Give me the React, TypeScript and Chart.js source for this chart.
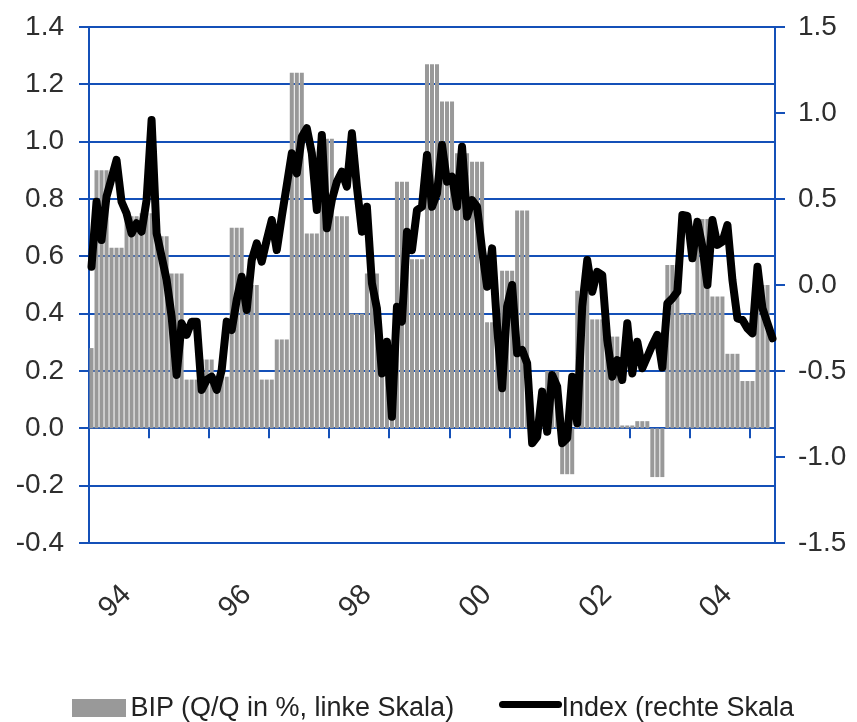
import React, { useEffect, useRef } from 'react';
import { Chart, registerables } from 'chart.js';

Chart.register(...registerables);

// ---------- data ----------
const startYear = 1993;
const monthCount = 137;
const months: string[] = Array.from({ length: monthCount }, (_, i) =>
  `${startYear + Math.floor(i / 12)}-${String((i % 12) + 1).padStart(2, '0')}`
);

// BIP Q/Q in % (left axis); first value covers one month, others three months each
const gdpQuarterly = [
  0.28,
  0.90, 0.63, 0.74, 0.75, 0.67, 0.54, 0.17, 0.24, 0.18, 0.70,
  0.50, 0.17, 0.31, 1.24, 0.68, 1.01, 0.74, 0.40, 0.54, 0.29,
  0.86, 0.59, 1.27, 1.14, 0.96, 0.93, 0.37, 0.55, 0.76, 0.01,
  0.20, -0.16, 0.48, 0.38, 0.32, 0.01, 0.025, -0.17, 0.57, 0.40,
  0.73, 0.46, 0.26, 0.165, 0.50,
];

// Index (right axis), monthly
const indexMonthly = [
  0.106, 0.484, 0.262, 0.514, 0.62, 0.727, 0.484, 0.417, 0.30, 0.359,
  0.31, 0.494, 0.959, 0.30, 0.165, 0.03, -0.184, -0.523, -0.223, -0.29,
  -0.213, -0.213, -0.61, -0.552, -0.533, -0.61, -0.494, -0.213, -0.262, -0.087,
  0.048, -0.145, 0.145, 0.242, 0.136, 0.262, 0.378, 0.203, 0.397, 0.581,
  0.766, 0.649, 0.862, 0.911, 0.766, 0.436, 0.872, 0.33, 0.494, 0.60,
  0.659, 0.572, 0.882, 0.572, 0.31, 0.455, 0.01, -0.136, -0.514, -0.33,
  -0.766, -0.126, -0.213, 0.31, 0.203, 0.436, 0.455, 0.756, 0.455, 0.533,
  0.814, 0.60, 0.63, 0.455, 0.804, 0.397, 0.494, 0.455, 0.203, -0.01,
  0.213, -0.242, -0.60, -0.126, 0.0, -0.397, -0.378, -0.455, -0.92, -0.882,
  -0.62, -0.853, -0.523, -0.591, -0.92, -0.891, -0.533, -0.804, -0.126, 0.145,
  -0.039, 0.077, 0.058, -0.32, -0.533, -0.436, -0.552, -0.223, -0.514, -0.33,
  -0.484, -0.417, -0.349, -0.29, -0.48, -0.107, -0.078, -0.039, 0.407, 0.401,
  0.155, 0.368, 0.223, 0.0, 0.378, 0.233, 0.252, 0.349, 0.029, -0.194,
  -0.203, -0.252, -0.281, 0.106, -0.136, -0.223, -0.31,
];

const tickLabelIndex = [7, 31, 55, 79, 103, 127];
const tickLabelText = ['94', '96', '98', '00', '02', '04'];
const yearBoundaryIndex = [12, 24, 36, 48, 60, 72, 84, 96, 108, 120, 132];

const seriesNames = ['BIP (Q/Q in %, linke Skala)', 'Index (rechte Skala'];

// ---------- style ----------
const BLUE = '#1450b8';
const BAR = '#999999';
const TEXT = '#2e2e2e';
const FONT = "'Liberation Sans', Arial, sans-serif";

const gdpMonthly = months.map((_, i) => {
  if (i === 0) return gdpQuarterly[0];
  const q = Math.floor((i - 1) / 3) + 1;
  return q < gdpQuarterly.length ? gdpQuarterly[q] : null;
});

const zeroLineTicks = {
  id: 'zeroLineTicks',
  beforeDatasetsDraw(chart: any) {
    const x = chart.scales.x;
    const y = chart.scales.y;
    const y0 = y.getPixelForValue(0);
    const ctx = chart.ctx;
    ctx.save();
    ctx.strokeStyle = BLUE;
    ctx.lineWidth = 2;
    for (const idx of yearBoundaryIndex) {
      const px = Math.round((x.getPixelForValue(idx - 1) + x.getPixelForValue(idx)) / 2);
      ctx.beginPath();
      ctx.moveTo(px, y0);
      ctx.lineTo(px, y0 + 10);
      ctx.stroke();
    }
    ctx.restore();
  },
};

const fmt = (v: any) => {
  const n = Number(v);
  return (Math.abs(n) < 1e-9 ? 0 : n).toFixed(1);
};

export default function App() {
  const ref = useRef<HTMLCanvasElement | null>(null);

  useEffect(() => {
    if (!ref.current) return;
    const chart = new Chart(ref.current, {
      type: 'bar',
      data: {
        labels: months,
        datasets: [
          {
            type: 'line',
            label: seriesNames[1],
            data: indexMonthly,
            yAxisID: 'y1',
            borderColor: '#000000',
            backgroundColor: '#000000',
            borderWidth: 8,
            pointRadius: 0,
            tension: 0,
            borderJoinStyle: 'round',
            borderCapStyle: 'round',
            order: 1,
          } as any,
          {
            type: 'bar',
            label: seriesNames[0],
            data: gdpMonthly,
            yAxisID: 'y',
            backgroundColor: BAR,
            borderWidth: 0,
            barPercentage: 1,
            categoryPercentage: 0.8,
            order: 2,
          } as any,
        ],
      },
      options: {
        animation: false,
        responsive: false,
        devicePixelRatio: 1,
        layout: { padding: { top: 27, left: 0, right: 0, bottom: 0 } },
        plugins: {
          legend: { display: false },
          tooltip: { enabled: false },
        },
        scales: {
          x: {
            offset: true,
            grid: { display: false, drawTicks: false },
            border: { display: false },
            ticks: {
              autoSkip: false,
              minRotation: 45,
              maxRotation: 45,
              padding: 35,
              color: TEXT,
              font: { family: FONT, size: 29 },
              callback: (_v: any, idx: number) => {
                const p = tickLabelIndex.indexOf(idx);
                return p >= 0 ? tickLabelText[p] : '';
              },
            },
            afterFit: (s: any) => {
              s.height = 179;
            },
          },
          y: {
            position: 'left',
            min: -0.4,
            max: 1.4,
            ticks: {
              stepSize: 0.2,
              padding: 15,
              color: TEXT,
              font: { family: FONT, size: 28 },
              callback: fmt,
            },
            grid: { color: BLUE, lineWidth: 2, tickLength: 10, drawTicks: true },
            border: { color: BLUE, width: 2 },
            afterFit: (s: any) => {
              s.width = 89;
              s.paddingTop = 0;
              s.paddingBottom = 0;
            },
          },
          y1: {
            position: 'right',
            min: -1.5,
            max: 1.5,
            ticks: {
              stepSize: 0.5,
              padding: 13,
              color: TEXT,
              font: { family: FONT, size: 28 },
              callback: fmt,
            },
            grid: { drawOnChartArea: false, color: BLUE, lineWidth: 2, tickLength: 10, drawTicks: true },
            border: { color: BLUE, width: 2 },
            afterFit: (s: any) => {
              s.width = 82;
              s.paddingTop = 0;
              s.paddingBottom = 0;
            },
          },
        },
      } as any,
      plugins: [zeroLineTicks],
    });
    return () => chart.destroy();
  }, []);

  const textStyle: React.CSSProperties = {
    position: 'absolute',
    top: 694.2,
    fontFamily: FONT,
    fontSize: 27,
    lineHeight: '27px',
    color: '#222222',
    whiteSpace: 'nowrap',
  };

  return (
    <div style={{ position: 'absolute', left: 0, top: 0, width: 857, height: 722, background: '#ffffff' }}>
      <canvas ref={ref} width={857} height={722} style={{ position: 'absolute', left: 0, top: 0, width: 857, height: 722 }} />
      <div style={{ position: 'absolute', left: 72, top: 699, width: 54, height: 18, background: BAR }} />
      <span style={{ ...textStyle, left: 130.5 }}>{seriesNames[0]}</span>
      <div style={{ position: 'absolute', left: 499, top: 701, width: 63, height: 7, borderRadius: 3.5, background: '#000000' }} />
      <span style={{ ...textStyle, left: 561.5 }}>{seriesNames[1]}</span>
    </div>
  );
}
